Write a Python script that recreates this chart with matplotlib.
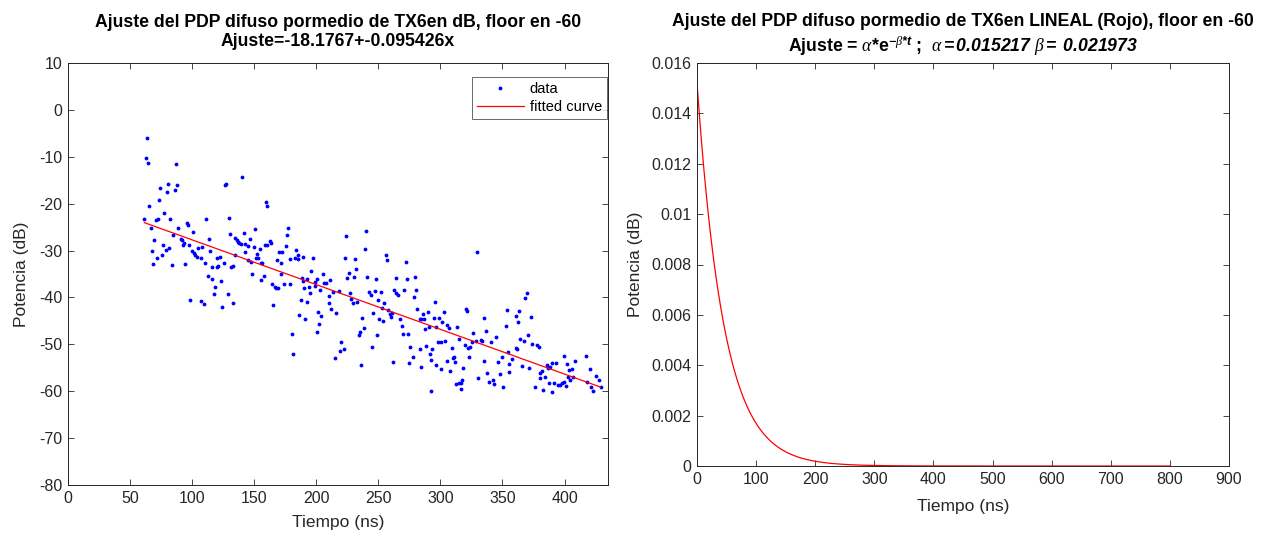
import numpy as np
import matplotlib
matplotlib.use("Agg")
import matplotlib.pyplot as plt

plt.rcParams['font.family'] = ['Liberation Sans', 'DejaVu Sans']
plt.rcParams['axes.unicode_minus'] = False
plt.rcParams['mathtext.fontset'] = 'custom'
plt.rcParams['mathtext.rm'] = 'Liberation Sans:bold'
plt.rcParams['mathtext.it'] = 'Liberation Serif:italic'
plt.rcParams['mathtext.bf'] = 'Liberation Sans:bold:italic'

# ---- Left chart data ----
pts = [
(63.7,-6.0),(62.6,-10.2),(64.8,-11.4),(86.6,-11.6),(74.5,-16.6),(80.6,-15.7),(79.6,-17.5),(85.8,-17.1),
(87.6,-16.1),(73.6,-19.2),(65.6,-20.4),(77.7,-22.0),(61.5,-23.2),(70.7,-23.5),(72.3,-23.3),(82.5,-23.3),
(66.7,-25.2),(95.7,-24.1),(96.5,-24.5),(88.7,-25.1),(84.7,-26.7),(100.6,-26.0),(91.1,-27.5),(92.2,-27.7),
(69.6,-27.7),(93.8,-28.4),(92.7,-28.9),(97.6,-28.8),(76.6,-28.9),(67.7,-30.2),(79.0,-29.9),(81.7,-29.5),
(75.5,-30.9),(71.8,-31.6),(68.8,-32.9),(83.9,-33.1),(94.6,-32.9),(100.2,-30.2),(101.6,-30.6),(102.4,-30.9),
(103.8,-31.3),(105.1,-29.5),(98.4,-40.5),(111.3,-23.3),(113.7,-27.5),(114.5,-30.2),(110.5,-32.6),(112.6,-35.5),
(107.5,-40.7),(109.4,-41.4),(108.1,-29.2),(107.0,-31.5),(140.3,-14.4),(126.4,-16.0),(127.4,-15.7),(159.4,-19.7),
(160.5,-20.4),(129.6,-23.0),(130.6,-26.5),(141.4,-26.3),(134.9,-27.4),(136.0,-27.7),(136.8,-28.1),(137.9,-28.3),
(139.0,-28.6),(146.5,-27.6),(150.5,-25.3),(142.2,-28.6),(145.2,-29.0),(149.5,-29.2),(162.4,-28.0),(163.2,-28.4),
(158.6,-28.8),(160.7,-28.9),(154.3,-29.7),(142.2,-30.4),(152.4,-30.7),(151.1,-31.6),(134.4,-30.9),(145.2,-32.1),
(147.6,-32.4),(153.0,-31.6),(155.1,-32.6),(156.5,-32.6),(119.9,-31.5),(122.6,-31.4),(125.6,-32.6),(115.8,-33.6),
(120.7,-33.2),(120.2,-33.6),(131.7,-33.6),(132.8,-33.3),(170.2,-30.3),(172.3,-30.4),(176.9,-25.2),(176.6,-26.7),
(175.3,-29.1),(183.3,-29.9),(184.9,-30.9),(182.8,-31.6),(185.2,-31.8),(178.5,-31.8),(189.5,-31.4),(168.3,-32.0),
(171.8,-32.6),(171.5,-34.9),(155.6,-36.3),(148.4,-35.0),(157.5,-35.4),(116.4,-36.1),(123.6,-36.5),(118.5,-37.7),
(117.5,-39.3),(128.5,-39.2),(124.4,-42.0),(133.3,-41.2),(165.3,-41.6),(164.3,-37.1),(166.4,-37.7),(167.5,-37.9),
(169.1,-38.0),(173.9,-37.1),(179.0,-37.2),(188.2,-35.8),(189.0,-36.5),(190.3,-38.0),(192.7,-36.0),(194.1,-37.8),
(195.7,-34.3),(199.2,-36.6),(198.6,-37.5),(200.6,-36.1),(195.2,-39.0),(192.2,-40.9),(187.3,-40.5),(186.3,-43.7),
(191.1,-44.7),(180.1,-47.8),(181.5,-52.1),(201.4,-43.0),(202.4,-45.7),(200.2,-47.3),(240.1,-25.9),(224.2,-27.0),
(239.0,-29.7),(255.9,-30.9),(257.0,-32.1),(272.0,-32.4),(197.3,-31.5),(223.1,-31.5),(230.9,-31.9),(205.1,-35.1),
(206.2,-37.0),(208.1,-37.0),(211.0,-36.3),(226.3,-34.8),(225.0,-35.8),(230.1,-35.6),(232.0,-33.9),(241.1,-35.6),
(248.1,-36.1),(264.0,-35.9),(272.8,-36.0),(279.8,-35.6),(203.2,-38.4),(213.4,-38.8),(218.0,-38.7),(210.5,-39.7),
(209.9,-41.1),(227.2,-39.1),(228.0,-40.4),(229.3,-41.2),(232.8,-40.9),(242.2,-38.8),(244.1,-39.5),(247.0,-38.7),
(251.9,-38.9),(250.0,-40.5),(254.8,-41.2),(253.0,-42.3),(262.9,-38.5),(264.5,-39.0),(266.1,-39.4),(271.0,-38.5),
(279.0,-40.0),(280.6,-38.4),(258.0,-42.7),(259.1,-43.6),(260.2,-44.2),(261.0,-43.4),(245.7,-43.3),(250.6,-44.5),
(254.0,-45.1),(236.8,-44.3),(204.0,-43.9),(216.1,-43.4),(212.1,-42.5),(238.2,-46.6),(235.5,-47.4),(234.1,-48.1),
(249.2,-48.1),(267.7,-44.7),(269.1,-46.0),(270.2,-47.7),(274.0,-47.8),(275.8,-50.6),(281.2,-42.4),(285.8,-43.5),
(283.3,-44.6),(284.4,-44.6),(286.6,-44.6),(290.1,-43.2),(294.6,-44.3),(298.6,-44.3),(296.0,-41.0),(296.8,-46.2),
(287.9,-46.7),(290.9,-46.4),(297.8,-49.4),(219.9,-49.6),(219.4,-51.4),(222.3,-51.1),(215.3,-52.9),(236.0,-54.5),
(245.2,-50.6),(261.9,-53.7),(274.8,-54.0),(278.0,-52.8),(283.9,-51.1),(288.7,-50.3),(291.9,-52.0),(293.5,-51.1),
(292.7,-59.9),(369.4,-39.0),(368.5,-40.1),(302.7,-43.2),(301.3,-45.3),(305.4,-45.9),(307.0,-46.6),(313.7,-46.2),
(320.4,-42.5),(321.8,-42.9),(335.5,-44.3),(353.5,-42.6),(360.5,-43.9),(363.7,-42.9),(362.7,-45.2),(372.6,-44.1),
(326.6,-47.6),(336.5,-47.1),(344.6,-48.4),(340.6,-49.5),(333.9,-49.2),(332.8,-49.0),(329.0,-49.2),(325.6,-49.5),
(319.6,-50.1),(315.1,-48.8),(324.2,-50.6),(322.6,-50.8),(352.7,-46.0),(364.5,-48.9),(367.7,-49.2),(370.4,-48.1),
(373.6,-49.9),(377.9,-50.1),(379.3,-50.6),(360.5,-50.8),(361.3,-50.9),(354.6,-51.6),(304.0,-49.3),(309.4,-50.7),
(300.5,-49.6),(323.4,-52.8),(335.0,-53.5),(346.0,-53.8),(349.4,-52.7),(357.5,-53.2),(366.1,-54.7),(371.2,-55.1),
(305.4,-53.5),(311.0,-52.6),(309.9,-52.9),(311.8,-53.8),(284.1,-54.8),(292.7,-53.3),(296.8,-54.5),(300.6,-55.2),
(308.1,-55.6),(318.5,-55.1),(317.7,-57.5),(316.7,-58.3),(314.8,-58.2),(312.9,-58.5),(316.4,-59.5),(330.6,-57.2),
(337.7,-56.2),(339.3,-58.1),(342.5,-57.6),(343.5,-58.4),(347.6,-56.4),(350.3,-59.1),(355.4,-55.9),(355.4,-54.1),
(376.3,-59.0),(380.4,-57.1),(380.6,-56.2),(382.0,-55.7),(383.9,-57.0),(382.3,-59.7),(386.0,-54.4),(386.5,-55.0),
(388.4,-54.8),(390.0,-54.0),(393.5,-53.9),(399.2,-52.5),(402.2,-54.2),(403.2,-55.5),(406.2,-55.3),(408.3,-53.6),
(417.2,-52.5),(420.4,-55.3),(402.4,-56.9),(404.3,-57.6),(407.0,-56.9),(417.7,-58.1),(421.0,-59.0),(422.6,-59.9),
(425.0,-56.8),(427.4,-57.6),(429.0,-59.1),(389.5,-60.1),(387.6,-58.2),(391.4,-58.3),(394.6,-58.6),(396.2,-58.7),
(397.8,-58.3),(399.5,-58.1),(401.3,-58.8),(329.6,-30.4),
]
tiempo = [p[0] for p in pts]
potencia = [p[1] for p in pts]

fit_a = -18.1767
fit_b = -0.095426

# ---- Right chart parameters ----
alpha = 0.015217
beta = 0.021973
t_max = 800

x_ticks_left = list(range(0, 401, 50))
y_ticks_left = list(range(-80, 11, 10))
x_ticks_right = list(range(0, 901, 100))
y_ticks_right = [0, 0.002, 0.004, 0.006, 0.008, 0.01, 0.012, 0.014, 0.016]
y_ticklabels_right = ['0', '0.002', '0.004', '0.006', '0.008', '0.01', '0.012', '0.014', '0.016']

W, H = 1281, 542
fig = plt.figure(figsize=(W/100, H/100), dpi=100)
axc = '#262626'
TICK = 11.5
LAB = 12.5
TIT = 12.7

def style(ax):
    ax.tick_params(direction='in', length=4, width=0.6, colors=axc, labelsize=TICK,
                   top=True, right=True, pad=4)
    for s in ax.spines.values():
        s.set_color(axc)
        s.set_linewidth(0.7)

ax1 = fig.add_axes([68/W, (H-485)/H, 540/W, 422/H])
xs = np.array(tiempo)
ax1.plot(xs, potencia, '.', color=(0, 0, 1), markersize=3.5, label='data')
xf = np.linspace(xs.min(), xs.max(), 200)
ax1.plot(xf, fit_a + fit_b*xf, '-', color=(1, 0, 0), linewidth=0.9, label='fitted curve')
ax1.set_xlim(0, 435)
ax1.set_ylim(-80, 10)
ax1.set_xticks(x_ticks_left)
ax1.set_yticks(y_ticks_left)
ax1.set_xlabel('Tiempo (ns)', fontsize=LAB, color=axc, labelpad=7)
ax1.set_ylabel('Potencia (dB)', fontsize=LAB, color=axc, labelpad=7)
ax1.set_title('Ajuste del PDP difuso pormedio de TX6en dB, floor en -60\nAjuste=-18.1767+-0.095426x',
              fontsize=TIT, fontweight='bold', color='black', pad=12, linespacing=1.15)
leg = ax1.legend(loc='upper right', bbox_to_anchor=(0.998, 0.967), fontsize=10.5, frameon=True,
                 fancybox=False, borderaxespad=0, handlelength=3.2, handletextpad=0.4,
                 borderpad=0.35, labelspacing=0.25)
leg.get_frame().set_edgecolor(axc)
leg.get_frame().set_linewidth(0.6)
style(ax1)

ax2 = fig.add_axes([697/W, (H-466)/H, 532/W, 403/H])
t = np.linspace(0, t_max, 801)
ax2.plot(t, alpha*np.exp(-beta*t), '-', color=(1, 0, 0), linewidth=0.9)
ax2.set_xlim(0, 900)
ax2.set_ylim(0, 0.016)
ax2.set_xticks(x_ticks_right)
ax2.set_yticks(y_ticks_right)
ax2.set_yticklabels(y_ticklabels_right)
ax2.set_xlabel('Tiempo (ns)', fontsize=LAB, color=axc, labelpad=9)
ax2.set_ylabel('Potencia (dB)', fontsize=LAB, color=axc, labelpad=6)
ax2.set_title('Ajuste del PDP difuso pormedio de TX6en LINEAL (Rojo), floor en -60\n'
              r'Ajuste = $\alpha$*e$^{\mathbf{-}\beta\mathbf{*t}}$ ;  $\alpha\mathbf{=0.015217}$ $\beta\mathbf{=\ 0.021973}$',
              fontsize=TIT, fontweight='bold', color='black', pad=8, linespacing=1.25)
style(ax2)

fig.savefig('out.png', dpi=100)
